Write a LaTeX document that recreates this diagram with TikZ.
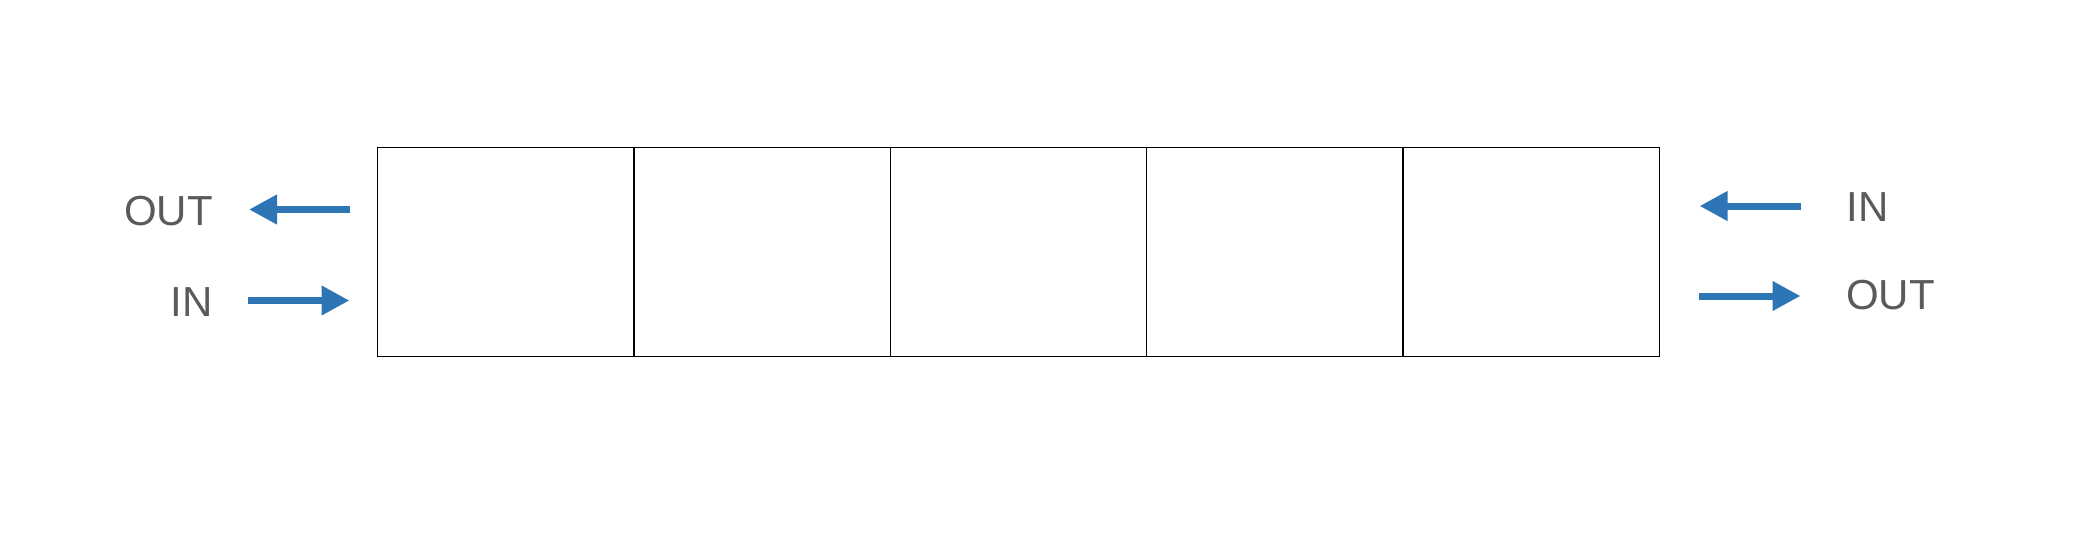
\documentclass[tikz,border=0pt]{standalone}
\usepackage{fontspec}
\setmainfont{Liberation Sans}
\usetikzlibrary{arrows.meta}
\definecolor{arrowblue}{RGB}{46,117,182}
\definecolor{labelgray}{RGB}{90,90,90}
\begin{document}
\begin{tikzpicture}[x=1pt,y=-1pt,
  cell/.style={draw=black,line width=1.3pt,minimum width=256.4pt,minimum height=209pt,inner sep=0pt,outer sep=0pt,anchor=north west},
  lbl/.style={text=labelgray,font=\fontsize{42}{50}\selectfont,inner sep=0pt},
  flow/.style={draw=arrowblue,line width=7pt,-{Triangle[length=28pt,width=28pt]}}]
\useasboundingbox (0,0) rectangle (2086,552);
\foreach \i in {1,...,5}{
  \node[cell] (c\i) at ({377.5+(\i-1)*256.4},147.5) {};
}
% left side
\node[lbl,anchor=base east] (outL) at (213,225) {OUT};
\node[lbl,anchor=base east] (inL) at (213,316) {IN};
\coordinate (aLt) at (350,209.5);
\coordinate (aLh) at (249,209.5);
\coordinate (bLt) at (248,300.5);
\coordinate (bLh) at (349.5,300.5);
\draw[flow] (aLt) -- (aLh);
\draw[flow] (bLt) -- (bLh);
% right side
\node[lbl,anchor=base west] (inR) at (1846.5,221.8) {IN};
\node[lbl,anchor=base west] (outR) at (1846,309.5) {OUT};
\coordinate (aRt) at (1801,206);
\coordinate (aRh) at (1699.5,206);
\coordinate (bRt) at (1699,296);
\coordinate (bRh) at (1800.5,296);
\draw[flow] (aRt) -- (aRh);
\draw[flow] (bRt) -- (bRh);
\end{tikzpicture}
\end{document}
